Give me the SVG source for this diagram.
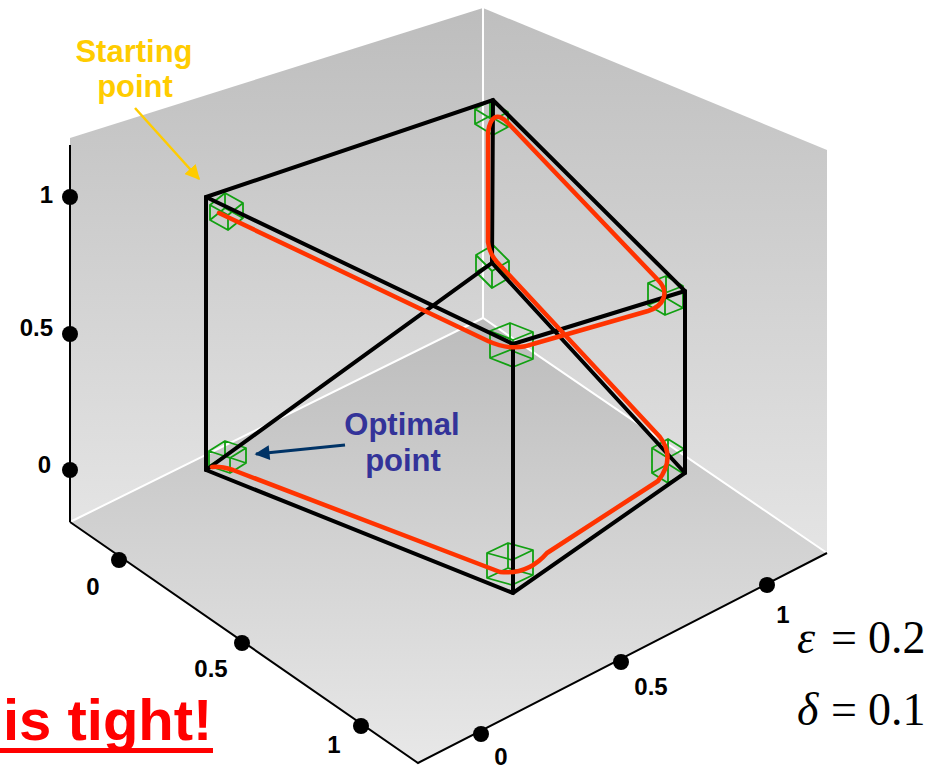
<svg xmlns="http://www.w3.org/2000/svg" width="943" height="770" viewBox="0 0 943 770">
<defs>
<linearGradient id="wallG" x1="0" y1="0" x2="0" y2="1">
<stop offset="0" stop-color="#bdbdbd"/>
<stop offset="1" stop-color="#e4e4e4"/>
</linearGradient>
<linearGradient id="wallR" gradientUnits="userSpaceOnUse" x1="0" y1="10" x2="0" y2="553">
<stop offset="0" stop-color="#bfbfbf"/>
<stop offset="1" stop-color="#e4e4e4"/>
</linearGradient>
<linearGradient id="floorG" gradientUnits="userSpaceOnUse" x1="0" y1="318" x2="0" y2="763">
<stop offset="0" stop-color="#bcbcbc"/>
<stop offset="1" stop-color="#e8e8e8"/>
</linearGradient>
<marker id="arrY" viewBox="0 0 10 10" refX="9" refY="5" markerWidth="6" markerHeight="6" markerUnits="strokeWidth" orient="auto">
<path d="M0,0 L10,5 L0,10 z" fill="#ffcc00"/>
</marker>
<marker id="arrB" viewBox="0 0 10 10" refX="9" refY="5" markerWidth="6" markerHeight="5" markerUnits="strokeWidth" orient="auto">
<path d="M0,0 L10,5 L0,10 z" fill="#003366"/>
</marker>
<style>
.axis{stroke:#000;stroke-width:2;fill:none}
.dot{fill:#000}
.tick{font-family:"Liberation Sans",Arial,sans-serif;font-weight:bold;font-size:24px;fill:#000}
.edge{stroke:#000;stroke-width:4;fill:none;stroke-linecap:round;stroke-linejoin:miter}
.gc{stroke:#11a011;stroke-width:1.8;fill:none;stroke-linejoin:round}
.path{stroke:#ff3300;stroke-width:4.5;fill:none;stroke-linecap:round;stroke-linejoin:round}
.lbl{font-family:"Liberation Sans",Arial,sans-serif;font-weight:bold;font-size:31px;text-anchor:middle}
.math{font-family:"Liberation Serif","Times New Roman",serif;font-size:46px;fill:#000}
</style>
</defs>

<g id="background">
<polygon points="70,138 483,8 483,318 70,522" fill="url(#wallG)"/>
<polygon points="483,8 827,150 827,553 483,318" fill="url(#wallR)"/>
<polygon points="70,522 483,318 827,553 418,763" fill="url(#floorG)"/>
<line x1="483" y1="8" x2="483" y2="318" stroke="#fff" stroke-width="2"/>
<polyline points="70,522 483,318 827,553" stroke="#fff" stroke-width="2" fill="none"/>
</g>

<g id="axes">
<line class="axis" x1="70" y1="145" x2="70" y2="522"/>
<polyline class="axis" points="70,522 418,763 827,553"/>
<circle class="dot" cx="70" cy="197" r="8"/>
<circle class="dot" cx="70" cy="334" r="8"/>
<circle class="dot" cx="70" cy="470" r="8"/>
<circle class="dot" cx="119" cy="560" r="8"/>
<circle class="dot" cx="242" cy="643" r="8"/>
<circle class="dot" cx="361" cy="726" r="8"/>
<circle class="dot" cx="481" cy="734" r="8"/>
<circle class="dot" cx="621" cy="662" r="8"/>
<circle class="dot" cx="767" cy="585" r="8"/>
<text class="tick" x="53" y="203" text-anchor="end">1</text>
<text class="tick" x="53" y="336" text-anchor="end">0.5</text>
<text class="tick" x="51" y="473" text-anchor="end">0</text>
<text class="tick" x="93" y="595" text-anchor="middle">0</text>
<text class="tick" x="211" y="677" text-anchor="middle">0.5</text>
<text class="tick" x="334" y="753" text-anchor="middle">1</text>
<text class="tick" x="501" y="765" text-anchor="middle">0</text>
<text class="tick" x="651" y="695" text-anchor="middle">0.5</text>
<text class="tick" x="783" y="623" text-anchor="middle">1</text>
</g>

<g id="cube-A" class="gc"><path d="M210,205 L225,193 L243,203 L243,218 L228,230 L210,220 Z M210,205 L228,215 L243,203 M228,215 L228,230 M210,220 L225,208 L243,218 M225,208 L225,193"/></g>
<g id="cube-B" class="gc"><path d="M475,109 L490,101 L508,112 L508,127 L493,135 L475,124 Z M475,109 L493,120 L508,112 M493,120 L493,135 M475,124 L490,116 L508,127 M490,116 L490,101"/></g>
<g id="cube-C" class="gc"><path d="M648,283 L666,276 L683,286 L683,308 L665,315 L648,305 Z M648,283 L665,293 L683,286 M665,293 L665,315 M648,305 L666,298 L683,308 M666,298 L666,276"/></g>
<g id="cube-D" class="gc"><path d="M490,331 L510,323 L533,332 L533,359 L513,367 L490,358 Z M490,331 L513,340 L533,332 M513,340 L513,367 M490,358 L510,350 L533,359 M510,350 L510,323"/></g>
<g id="cube-E" class="gc"><path d="M209,451 L225,441 L246,448 L246,463 L230,473 L209,466 Z M209,451 L230,458 L246,448 M230,458 L230,473 M209,466 L225,456 L246,463 M225,456 L225,441"/></g>
<g id="cube-F" class="gc"><path d="M487,553 L508,543 L533,550 L533,575 L512,585 L487,578 Z M487,553 L512,560 L533,550 M512,560 L512,585 M487,578 L508,568 L533,575 M508,568 L508,543"/></g>
<g id="cube-G" class="gc"><path d="M652,448 L668,439 L684,449 L684,474 L668,483 L652,473 Z M652,448 L668,458 L684,449 M668,458 L668,483 M652,473 L668,464 L684,474 M668,464 L668,439"/></g>
<g id="cube-H" class="gc"><path d="M476,255 L493,245 L509,261 L509,278 L492,288 L476,272 Z M476,255 L492,271 L509,261 M492,271 L492,288 M476,272 L493,262 L509,278 M493,262 L493,245"/></g>

<g id="connectors">
<path class="edge" d="M206,470 L206,197 L493,100 L685,291 L685,473 L513,593 L206,470"/>
<path class="edge" d="M206,197 L513,344 L685,291"/>
<path class="edge" d="M513,344 L513,593"/>
<path class="edge" d="M493,100 L492,263"/>
<path class="edge" d="M206,470 L492,263 L685,473"/>
<path class="path" d="M219,213 L488,341 Q512,352 533,344 L648,311 C664,306 670,292 658,280 L507,122 Q492,108 488,132 L488,242 Q489,253 497,262 L660,437 Q676,458 658,481 L547,553 Q528,575 500,572 L233,470 Q220,466 212,467"/>
<line x1="135" y1="108" x2="199" y2="179" stroke="#ffcc00" stroke-width="2.5" marker-end="url(#arrY)"/>
<line x1="345" y1="445" x2="256" y2="454" stroke="#003366" stroke-width="3" marker-end="url(#arrB)"/>
</g>

<g id="label-start">
<text class="lbl" x="134" y="62" fill="#ffcc00">Starting</text>
<text class="lbl" x="135" y="97" fill="#ffcc00">point</text>
</g>

<g id="label-optimal">
<text class="lbl" x="402" y="435" fill="#333399">Optimal</text>
<text class="lbl" x="403" y="471" fill="#333399">point</text>
</g>

<g id="label-tight">
<text x="3" y="740" font-family="Liberation Sans,Arial,sans-serif" font-weight="bold" font-size="58" fill="#ff0000">is tight!</text>
<rect x="0" y="748" width="213" height="5" fill="#ff0000"/>
</g>

<g id="label-params">
<text class="math" x="797" y="653" font-style="italic">ε</text>
<text class="math" x="831" y="653">=</text>
<text class="math" x="868" y="653">0.2</text>
<text class="math" x="797" y="725" font-style="italic">δ</text>
<text class="math" x="831" y="725">=</text>
<text class="math" x="868" y="725">0.1</text>
</g>
</svg>
